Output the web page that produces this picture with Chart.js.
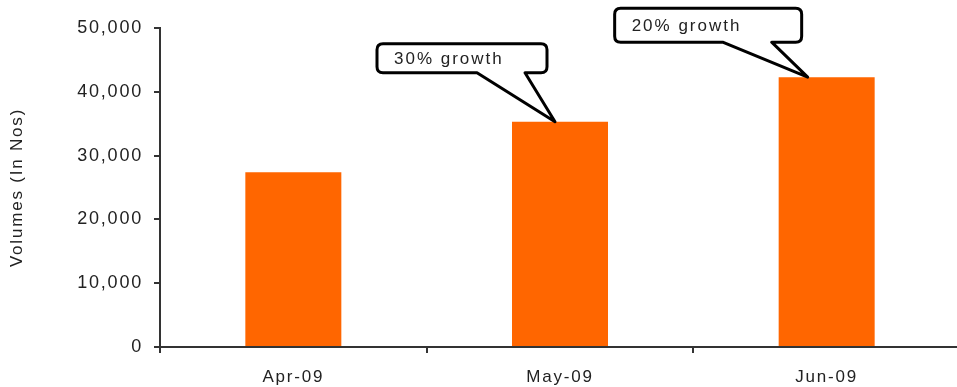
<!DOCTYPE html>
<html>
<head>
<meta charset="utf-8">
<script src="https://cdn.jsdelivr.net/npm/chart.js@4/dist/chart.umd.min.js"></script>
<style>
  html, body { margin: 0; padding: 0; background: #fff; overflow: hidden; }
  #wrap { width: 960px; height: 387px; }
</style>
</head>
<body>
<div id="wrap"><canvas id="volChart"></canvas></div>
<script>
const months = ['Apr-09', 'May-09', 'Jun-09'];
const volumes = [27400, 35300, 42300];
const notes = ['', '30% growth', '20% growth'];
const yTicks = [0, 10000, 20000, 30000, 40000, 50000];

const FONT = '"Liberation Sans", Arial, sans-serif';
const TRACK = '1.8px';

// box placement relative to the tail tip (style only)
const boxStyle = [
  null,
  { tipDx: -5, dx: -178, dy: -78, w: 170, h: 29, tailL: 100, tailR: 148 },
  { tipDx: -19, dx: -193, dy: -69, w: 187, h: 34, tailL: 108, tailR: 157 }
];

// the reference text is set wide, so add a bit of tracking
const spacing = {
  id: 'spacing',
  beforeLayout(chart) { chart.ctx.letterSpacing = TRACK; },
  beforeDraw(chart) { chart.ctx.letterSpacing = TRACK; }
};

const callouts = {
  id: 'callouts',
  afterDatasetsDraw(chart) {
    const ctx = chart.ctx;
    const bars = chart.getDatasetMeta(0).data;
    bars.forEach((bar, i) => {
      if (!notes[i]) return;
      const s = boxStyle[i];
      const tx = bar.x + s.tipDx, ty = bar.y;
      const x = tx + s.dx, y = ty + s.dy, w = s.w, h = s.h, r = 6;
      ctx.save();
      ctx.beginPath();
      ctx.moveTo(x + r, y);
      ctx.lineTo(x + w - r, y);
      ctx.quadraticCurveTo(x + w, y, x + w, y + r);
      ctx.lineTo(x + w, y + h - r);
      ctx.quadraticCurveTo(x + w, y + h, x + w - r, y + h);
      ctx.lineTo(x + s.tailR, y + h);
      ctx.lineTo(tx, ty);
      ctx.lineTo(x + s.tailL, y + h);
      ctx.lineTo(x + r, y + h);
      ctx.quadraticCurveTo(x, y + h, x, y + h - r);
      ctx.lineTo(x, y + r);
      ctx.quadraticCurveTo(x, y, x + r, y);
      ctx.closePath();
      ctx.fillStyle = '#fff';
      ctx.fill();
      ctx.lineWidth = 3;
      ctx.lineJoin = 'round';
      ctx.strokeStyle = '#000';
      ctx.stroke();
      ctx.fillStyle = '#222';
      ctx.font = '17px ' + FONT;
      ctx.letterSpacing = '2px';
      ctx.textBaseline = 'middle';
      ctx.fillText(notes[i], x + 17, y + h / 2 + 1);
      ctx.restore();
    });
  }
};

new Chart(document.getElementById('volChart'), {
  type: 'bar',
  data: {
    labels: months,
    datasets: [{
      data: volumes,
      backgroundColor: '#ff6600',
      categoryPercentage: 0.36,
      barPercentage: 1
    }]
  },
  options: {
    responsive: true,
    maintainAspectRatio: false,
    animation: false,
    layout: { padding: { top: 28, left: 0, right: 0, bottom: 0 } },
    plugins: { legend: { display: false }, tooltip: { enabled: false } },
    scales: {
      x: {
        grid: { offset: true, drawOnChartArea: false, drawTicks: true, tickLength: 6, color: '#333', lineWidth: 2 },
        border: { display: true, color: '#333', width: 2 },
        ticks: { color: '#222', padding: 14, font: { family: FONT, size: 17 } },
        afterFit: s => { s.height = 40; }
      },
      y: {
        min: 0,
        max: 50000,
        afterBuildTicks: s => { s.ticks = yTicks.map(v => ({ value: v })); },
        grid: { drawOnChartArea: false, drawTicks: true, tickLength: 6, color: '#333', lineWidth: 2 },
        border: { display: true, color: '#333', width: 2 },
        ticks: {
          color: '#222',
          padding: 11,
          font: { family: FONT, size: 18 },
          callback: v => v.toLocaleString('en-US')
        },
        title: {
          display: true,
          text: 'Volumes (In Nos)',
          color: '#222',
          font: { family: FONT, size: 17 },
          padding: { top: 7, bottom: 4 }
        },
        afterFit: s => { s.width = 160; }
      }
    }
  },
  plugins: [spacing, callouts]
});
</script>
</body>
</html>
